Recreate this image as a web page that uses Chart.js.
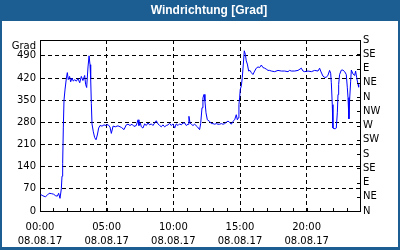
<!DOCTYPE html>
<html lang="de">
<head>
<meta charset="UTF-8">
<title>Windrichtung [Grad]</title>
<script src="https://cdn.jsdelivr.net/npm/chart.js@4"></script>
<style>
  body { margin: 0; }
  #wrap { width: 400px; height: 250px; }
</style>
</head>
<body>
<div id="wrap"><canvas id="wind-chart" width="400" height="250"></canvas></div>
<script>
var titleText = 'Windrichtung [Grad]';
var unitLabel = 'Grad';
var dateLabel = '08.08.17';

// hours since 00:00 on 08.08.17, and wind direction in degrees
var hours = [
  0.05, 0.22, 0.4, 0.55, 0.68, 0.85, 1.02, 1.18, 1.3, 1.4, 1.5, 1.6, 1.65, 1.7, 1.75, 1.8, 1.88, 1.98,
  2.05, 2.12, 2.22, 2.3, 2.4, 2.5, 2.6, 2.72, 2.85, 2.98, 3.1, 3.22, 3.35, 3.42, 3.5, 3.6, 3.68, 3.75,
  3.8, 3.85, 3.9, 4.0, 4.1, 4.2, 4.3, 4.4, 4.5, 4.65, 4.8, 4.95, 5.1, 5.25, 5.35, 5.48, 5.65,
  5.85, 6.1, 6.3, 6.47, 6.6, 6.75, 6.9, 7.05, 7.22, 7.35, 7.42, 7.52, 7.6, 7.72, 7.85, 7.97, 8.1, 8.22,
  8.35, 8.47, 8.6, 8.72, 8.85, 8.97, 9.1, 9.22, 9.35, 9.47, 9.6, 9.72, 9.85, 9.97, 10.1, 10.22, 10.35,
  10.47, 10.6, 10.72, 10.85, 10.97, 11.1, 11.17, 11.25, 11.35, 11.47, 11.6, 11.8, 11.97,
  12.05, 12.15, 12.22, 12.3, 12.37, 12.45, 12.55, 12.72, 12.85, 12.97, 13.1, 13.22, 13.35, 13.47, 13.6,
  13.72, 13.85, 13.97, 14.1, 14.22, 14.35, 14.47, 14.6, 14.72, 14.8, 14.87, 14.92, 14.97, 15.02, 15.1,
  15.17, 15.25, 15.32, 15.4, 15.47, 15.55, 15.65, 15.75, 15.85, 15.97, 16.1, 16.22, 16.35, 16.47, 16.6,
  16.72, 16.85, 16.97, 17.1, 17.22, 17.35, 17.6, 17.85, 18.1, 18.35, 18.6, 18.72, 18.85, 19.1, 19.35,
  19.6, 19.72, 19.85, 20.1, 20.35, 20.6, 20.85, 20.97, 21.05, 21.22, 21.35, 21.47, 21.6, 21.72, 21.8,
  21.85, 21.92, 21.97, 22.05, 22.15, 22.22, 22.3, 22.35, 22.4, 22.47, 22.6, 22.72, 22.85, 22.97, 23.05,
  23.1, 23.17, 23.22, 23.3, 23.35, 23.47, 23.6, 23.67, 23.75, 23.85, 23.9
];
var direction = [
  52, 48, 45, 50, 56, 55, 53, 48, 47, 56, 40, 70, 110, 150, 265, 350, 385, 420,
  437, 415, 425, 408, 420, 410, 415, 410, 418, 405, 425, 412, 428, 400, 390, 455, 490, 462,
  420, 340, 275, 250, 232, 225, 240, 262, 270, 268, 272, 270, 273, 265, 245, 268, 266,
  269, 264, 257, 272, 274, 270, 274, 267, 270, 288, 270, 278, 266, 262, 275, 270, 278, 272,
  275, 270, 278, 285, 275, 270, 266, 272, 266, 270, 272, 277, 270, 275, 262, 275, 270,
  275, 272, 278, 278, 270, 274, 299, 278, 274, 270, 274, 266, 257,
  276, 326, 357, 368, 347, 310, 288, 283, 276, 276, 274, 276, 274, 274, 276,
  274, 276, 280, 284, 280, 274, 283, 288, 304, 288, 294, 336, 357, 384, 395,
  421, 464, 506, 495, 474, 464, 442, 444, 437, 431, 442, 451, 455, 453, 461,
  453, 451, 448, 444, 444, 442, 440, 444, 442, 442, 440, 444, 442, 442, 444,
  451, 442, 440, 442, 440, 444, 442, 451, 442, 426, 422, 422, 429, 444, 435,
  405, 336, 262, 260, 260, 262, 310, 368, 400, 431, 445, 445, 440, 431, 389,
  358, 291, 350, 410, 445, 433, 428, 442, 421, 400, 391
];

var gradTicks = [0, 70, 140, 210, 280, 350, 420, 490];
var compassTicks = [0, 45, 90, 135, 180, 225, 270, 315, 360, 405, 450, 495, 540];
var compassLabels = ['N', 'NE', 'E', 'SE', 'S', 'SW', 'W', 'NW', 'N', 'NE', 'E', 'SE', 'S'];
var hourTicks = [0, 1, 2, 3, 4, 5, 6, 7, 8, 9, 10, 11, 12, 13, 14, 15, 16, 17, 18, 19, 20, 21, 22, 23, 24];
var labelHours = [0, 5, 10, 15, 20];
var timeLabels = ['00:00', '05:00', '10:00', '15:00', '20:00'];

var frameBlue = 'rgb(29, 94, 146)';

Chart.defaults.font.family = 'DejaVu Sans';
Chart.defaults.font.size = 10;
Chart.defaults.color = '#000';

var framePlugin = {
  id: 'frame',
  beforeDraw: function (chart) {
    var c = chart.ctx;
    c.save();
    c.fillStyle = frameBlue;
    c.fillRect(0, 0, 400, 250);
    c.fillStyle = '#fff';
    c.fillRect(2, 21, 396, 226);
    c.font = 'bold 12px "Liberation Sans"';
    c.fillStyle = '#fff';
    c.textAlign = 'center';
    c.textBaseline = 'middle';
    c.fillText(titleText, 209, 11);
    c.restore();
  },
  afterDraw: function (chart) {
    var c = chart.ctx;
    var area = chart.chartArea;
    var xs = chart.scales.x;
    var yr = chart.scales.y2;
    c.save();
    c.strokeStyle = '#000';
    c.lineWidth = 1;
    c.beginPath();
    // top border
    c.moveTo(area.left, area.top + 0.5);
    c.lineTo(area.right + 1, area.top + 0.5);
    // hour ticks, pointing into the plot
    hourTicks.forEach(function (h) {
      var px = Math.round(xs.getPixelForValue(h)) + 0.5;
      c.moveTo(px, area.bottom);
      c.lineTo(px, area.bottom - 3);
    });
    // compass ticks on the right axis
    compassTicks.forEach(function (v) {
      var py = Math.round(yr.getPixelForValue(v)) + 0.5;
      c.moveTo(area.right - 3, py);
      c.lineTo(area.right, py);
    });
    c.stroke();
    c.font = '10px "DejaVu Sans"';
    c.fillStyle = '#000';
    c.textAlign = 'right';
    c.textBaseline = 'middle';
    c.fillText(unitLabel, area.left - 4, 46);
    c.restore();
  }
};

var ctx = document.getElementById('wind-chart').getContext('2d');
var chart = new Chart(ctx, {
  type: 'line',
  data: {
    datasets: [{
      label: titleText,
      data: hours.map(function (h, i) { return { x: h, y: direction[i] }; }),
      borderColor: '#0000ff',
      borderWidth: 1,
      pointRadius: 0,
      tension: 0,
      fill: false
    }]
  },
  options: {
    responsive: false,
    animation: false,
    devicePixelRatio: 1,
    layout: { padding: { left: 2, right: 2, top: 40, bottom: 2 } },
    plugins: {
      legend: { display: false },
      title: { display: false },
      tooltip: { enabled: false }
    },
    scales: {
      x: {
        type: 'linear',
        min: 0,
        max: 24,
        afterBuildTicks: function (scale) {
          scale.ticks = hourTicks.map(function (h) { return { value: h }; });
        },
        afterFit: function (scale) { scale.height = 37; },
        ticks: {
          autoSkip: false,
          maxRotation: 0,
          padding: 9,
          font: { lineHeight: 1.4 },
          callback: function (value) {
            var k = labelHours.indexOf(value);
            return k >= 0 ? [timeLabels[k], dateLabel] : '';
          }
        },
        grid: {
          drawTicks: false,
          color: function (ctx) {
            var v = ctx.tick && ctx.tick.value;
            return (v > 0 && v < 24 && v % 5 === 0) ? '#000' : 'rgba(0,0,0,0)';
          }
        },
        border: { display: true, color: '#000', dash: [4, 3] }
      },
      y: {
        position: 'left',
        min: 0,
        max: 540,
        afterBuildTicks: function (scale) {
          scale.ticks = gradTicks.map(function (v) { return { value: v }; });
        },
        afterFit: function (scale) { scale.width = 38; },
        ticks: { padding: 4 },
        grid: {
          drawTicks: false,
          color: function (ctx) {
            var v = ctx.tick && ctx.tick.value;
            return v > 0 ? '#000' : 'rgba(0,0,0,0)';
          }
        },
        border: { display: true, color: '#000', dash: [4, 3] }
      },
      y2: {
        position: 'right',
        min: 0,
        max: 540,
        afterBuildTicks: function (scale) {
          scale.ticks = compassTicks.map(function (v) { return { value: v }; });
        },
        afterFit: function (scale) { scale.width = 38; },
        ticks: {
          padding: 3,
          autoSkip: false,
          callback: function (value) {
            return compassLabels[compassTicks.indexOf(value)];
          }
        },
        grid: { drawTicks: false, drawOnChartArea: false },
        border: { display: true, color: '#000' }
      }
    }
  },
  plugins: [framePlugin]
});
</script>
</body>
</html>
